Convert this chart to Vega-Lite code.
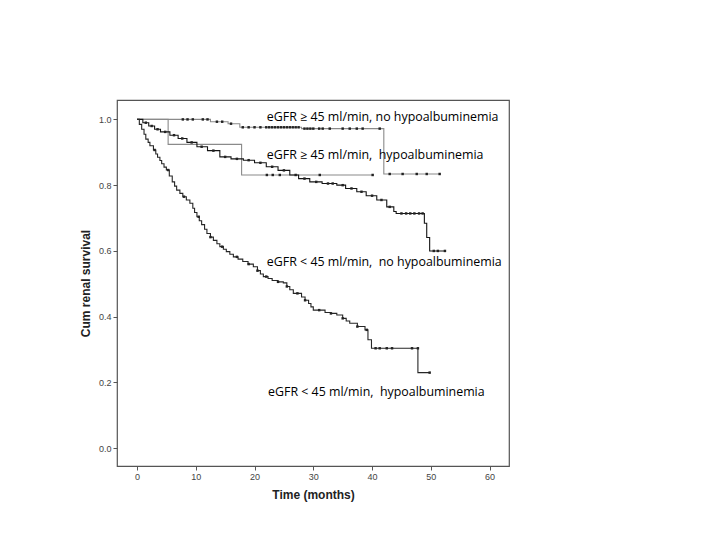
{
  "$schema": "https://vega.github.io/schema/vega-lite/v6.json",
  "width": 392,
  "height": 366,
  "autosize": {"type": "none"},
  "padding": {"left": 117, "top": 100, "right": 211, "bottom": 74},
  "background": "white",
  "config": {
    "view": {"stroke": "#555555", "strokeWidth": 1.2},
    "axis": {"grid": false, "domain": false, "tickColor": "#555555", "tickSize": 4, "labelFont": "Liberation Sans", "labelFontSize": 9, "labelColor": "#444444", "titleFont": "Liberation Sans", "titleFontSize": 12, "titleFontWeight": "bold", "titleColor": "#222222"}
  },
  "datasets": {
    "steps": [
      {"grp": "A", "t": 0, "s": 1.0}, {"grp": "A", "t": 12.5, "s": 0.993}, {"grp": "A", "t": 15.5, "s": 0.987}, {"grp": "A", "t": 17.5, "s": 0.976}, {"grp": "A", "t": 28, "s": 0.972}, {"grp": "A", "t": 42, "s": 0.834}, {"grp": "A", "t": 51.5, "s": 0.834},
      {"grp": "B", "t": 0, "s": 1.0}, {"grp": "B", "t": 5.3, "s": 0.924}, {"grp": "B", "t": 17.8, "s": 0.831}, {"grp": "B", "t": 40.1, "s": 0.831},
      {"grp": "C", "t": 0, "s": 1.0}, {"grp": "C", "t": 1, "s": 0.99}, {"grp": "C", "t": 2, "s": 0.98}, {"grp": "C", "t": 3, "s": 0.97}, {"grp": "C", "t": 4, "s": 0.962}, {"grp": "C", "t": 5.6, "s": 0.952}, {"grp": "C", "t": 7, "s": 0.942}, {"grp": "C", "t": 8.5, "s": 0.93}, {"grp": "C", "t": 10.2, "s": 0.917}, {"grp": "C", "t": 12, "s": 0.905}, {"grp": "C", "t": 14.1, "s": 0.886}, {"grp": "C", "t": 16, "s": 0.88}, {"grp": "C", "t": 18.1, "s": 0.876}, {"grp": "C", "t": 20, "s": 0.868}, {"grp": "C", "t": 22, "s": 0.856}, {"grp": "C", "t": 24, "s": 0.845}, {"grp": "C", "t": 26, "s": 0.831}, {"grp": "C", "t": 27.5, "s": 0.82}, {"grp": "C", "t": 29.4, "s": 0.81}, {"grp": "C", "t": 31.5, "s": 0.805}, {"grp": "C", "t": 34, "s": 0.8}, {"grp": "C", "t": 35.5, "s": 0.79}, {"grp": "C", "t": 37.4, "s": 0.78}, {"grp": "C", "t": 39, "s": 0.768}, {"grp": "C", "t": 40.8, "s": 0.755}, {"grp": "C", "t": 42.5, "s": 0.734}, {"grp": "C", "t": 43.7, "s": 0.72}, {"grp": "C", "t": 44.1, "s": 0.714}, {"grp": "C", "t": 48.9, "s": 0.684}, {"grp": "C", "t": 49.3, "s": 0.641}, {"grp": "C", "t": 49.8, "s": 0.6}, {"grp": "C", "t": 52.4, "s": 0.6},
      {"grp": "D", "t": 0, "s": 1.0}, {"grp": "D", "t": 0.4, "s": 0.985}, {"grp": "D", "t": 0.8, "s": 0.97}, {"grp": "D", "t": 1.2, "s": 0.955}, {"grp": "D", "t": 1.5, "s": 0.94}, {"grp": "D", "t": 1.9, "s": 0.93}, {"grp": "D", "t": 2.2, "s": 0.92}, {"grp": "D", "t": 2.8, "s": 0.907}, {"grp": "D", "t": 3.2, "s": 0.895}, {"grp": "D", "t": 3.5, "s": 0.885}, {"grp": "D", "t": 3.9, "s": 0.875}, {"grp": "D", "t": 4.2, "s": 0.865}, {"grp": "D", "t": 4.6, "s": 0.855}, {"grp": "D", "t": 5, "s": 0.846}, {"grp": "D", "t": 5.5, "s": 0.828}, {"grp": "D", "t": 6, "s": 0.81}, {"grp": "D", "t": 6.4, "s": 0.797}, {"grp": "D", "t": 6.75, "s": 0.785}, {"grp": "D", "t": 7.3, "s": 0.775}, {"grp": "D", "t": 7.8, "s": 0.765}, {"grp": "D", "t": 8.4, "s": 0.755}, {"grp": "D", "t": 9, "s": 0.745}, {"grp": "D", "t": 9.5, "s": 0.73}, {"grp": "D", "t": 9.8, "s": 0.717}, {"grp": "D", "t": 10.2, "s": 0.704}, {"grp": "D", "t": 10.6, "s": 0.692}, {"grp": "D", "t": 11, "s": 0.68}, {"grp": "D", "t": 11.5, "s": 0.666}, {"grp": "D", "t": 11.9, "s": 0.653}, {"grp": "D", "t": 12.5, "s": 0.642}, {"grp": "D", "t": 13, "s": 0.632}, {"grp": "D", "t": 13.6, "s": 0.622}, {"grp": "D", "t": 14.1, "s": 0.613}, {"grp": "D", "t": 14.7, "s": 0.605}, {"grp": "D", "t": 15.2, "s": 0.598}, {"grp": "D", "t": 15.8, "s": 0.59}, {"grp": "D", "t": 16.4, "s": 0.582}, {"grp": "D", "t": 17.2, "s": 0.575}, {"grp": "D", "t": 18, "s": 0.568}, {"grp": "D", "t": 18.9, "s": 0.56}, {"grp": "D", "t": 19.8, "s": 0.552}, {"grp": "D", "t": 20.5, "s": 0.54}, {"grp": "D", "t": 21, "s": 0.53}, {"grp": "D", "t": 21.5, "s": 0.522}, {"grp": "D", "t": 22.3, "s": 0.516}, {"grp": "D", "t": 23, "s": 0.51}, {"grp": "D", "t": 24, "s": 0.506}, {"grp": "D", "t": 24.9, "s": 0.503}, {"grp": "D", "t": 25.5, "s": 0.492}, {"grp": "D", "t": 26, "s": 0.482}, {"grp": "D", "t": 26.6, "s": 0.471}, {"grp": "D", "t": 28, "s": 0.46}, {"grp": "D", "t": 28.6, "s": 0.45}, {"grp": "D", "t": 29.2, "s": 0.44}, {"grp": "D", "t": 29.6, "s": 0.43}, {"grp": "D", "t": 30, "s": 0.42}, {"grp": "D", "t": 32, "s": 0.413}, {"grp": "D", "t": 33, "s": 0.41}, {"grp": "D", "t": 34, "s": 0.405}, {"grp": "D", "t": 35, "s": 0.395}, {"grp": "D", "t": 35.6, "s": 0.387}, {"grp": "D", "t": 36.2, "s": 0.38}, {"grp": "D", "t": 37.5, "s": 0.37}, {"grp": "D", "t": 38.8, "s": 0.36}, {"grp": "D", "t": 39.3, "s": 0.33}, {"grp": "D", "t": 39.9, "s": 0.304}, {"grp": "D", "t": 47.8, "s": 0.23}, {"grp": "D", "t": 49.8, "s": 0.23}
    ],
    "censor": [
      {"grp": "A", "t": 7.8, "s": 1.0}, {"grp": "A", "t": 8.6, "s": 1.0}, {"grp": "A", "t": 9.5, "s": 1.0}, {"grp": "A", "t": 11.2, "s": 1.0}, {"grp": "A", "t": 12, "s": 1.0}, {"grp": "A", "t": 13.6, "s": 0.993}, {"grp": "A", "t": 14.5, "s": 0.993}, {"grp": "A", "t": 16, "s": 0.987}, {"grp": "A", "t": 18, "s": 0.976}, {"grp": "A", "t": 19, "s": 0.976}, {"grp": "A", "t": 20, "s": 0.976}, {"grp": "A", "t": 21, "s": 0.976}, {"grp": "A", "t": 22, "s": 0.976}, {"grp": "A", "t": 22.5, "s": 0.976}, {"grp": "A", "t": 23, "s": 0.976}, {"grp": "A", "t": 23.5, "s": 0.976}, {"grp": "A", "t": 24, "s": 0.976}, {"grp": "A", "t": 24.5, "s": 0.976}, {"grp": "A", "t": 25, "s": 0.976}, {"grp": "A", "t": 25.5, "s": 0.976}, {"grp": "A", "t": 26, "s": 0.976}, {"grp": "A", "t": 26.5, "s": 0.976}, {"grp": "A", "t": 27, "s": 0.976}, {"grp": "A", "t": 27.5, "s": 0.976}, {"grp": "A", "t": 28.5, "s": 0.972}, {"grp": "A", "t": 29, "s": 0.972}, {"grp": "A", "t": 29.5, "s": 0.972}, {"grp": "A", "t": 30, "s": 0.972}, {"grp": "A", "t": 31, "s": 0.972}, {"grp": "A", "t": 31.6, "s": 0.972}, {"grp": "A", "t": 32.8, "s": 0.972}, {"grp": "A", "t": 35, "s": 0.972}, {"grp": "A", "t": 36.2, "s": 0.972}, {"grp": "A", "t": 37.4, "s": 0.972}, {"grp": "A", "t": 38.4, "s": 0.972}, {"grp": "A", "t": 41.3, "s": 0.972}, {"grp": "A", "t": 43, "s": 0.834}, {"grp": "A", "t": 45.2, "s": 0.834}, {"grp": "A", "t": 47.6, "s": 0.834}, {"grp": "A", "t": 49.3, "s": 0.834}, {"grp": "A", "t": 51.5, "s": 0.834},
      {"grp": "B", "t": 22.1, "s": 0.831}, {"grp": "B", "t": 23.1, "s": 0.831}, {"grp": "B", "t": 24.3, "s": 0.831}, {"grp": "B", "t": 31.1, "s": 0.831}, {"grp": "B", "t": 40.1, "s": 0.831},
      {"grp": "C", "t": 1.5, "s": 0.99}, {"grp": "C", "t": 2.5, "s": 0.98}, {"grp": "C", "t": 3.5, "s": 0.97}, {"grp": "C", "t": 4.8, "s": 0.962}, {"grp": "C", "t": 6.3, "s": 0.952}, {"grp": "C", "t": 7.7, "s": 0.942}, {"grp": "C", "t": 9.3, "s": 0.93}, {"grp": "C", "t": 11, "s": 0.917}, {"grp": "C", "t": 13, "s": 0.905}, {"grp": "C", "t": 15, "s": 0.886}, {"grp": "C", "t": 17, "s": 0.88}, {"grp": "C", "t": 19, "s": 0.876}, {"grp": "C", "t": 21, "s": 0.868}, {"grp": "C", "t": 23, "s": 0.856}, {"grp": "C", "t": 25, "s": 0.845}, {"grp": "C", "t": 27, "s": 0.831}, {"grp": "C", "t": 28.5, "s": 0.82}, {"grp": "C", "t": 30.5, "s": 0.81}, {"grp": "C", "t": 32.5, "s": 0.805}, {"grp": "C", "t": 33.3, "s": 0.805}, {"grp": "C", "t": 35, "s": 0.8}, {"grp": "C", "t": 36.5, "s": 0.79}, {"grp": "C", "t": 38.2, "s": 0.78}, {"grp": "C", "t": 40, "s": 0.768}, {"grp": "C", "t": 41.6, "s": 0.755}, {"grp": "C", "t": 43, "s": 0.734}, {"grp": "C", "t": 45, "s": 0.714}, {"grp": "C", "t": 45.8, "s": 0.714}, {"grp": "C", "t": 46.5, "s": 0.714}, {"grp": "C", "t": 47.2, "s": 0.714}, {"grp": "C", "t": 48, "s": 0.714}, {"grp": "C", "t": 48.6, "s": 0.714}, {"grp": "C", "t": 50.5, "s": 0.6}, {"grp": "C", "t": 51.2, "s": 0.6}, {"grp": "C", "t": 52.4, "s": 0.6},
      {"grp": "D", "t": 3, "s": 0.907}, {"grp": "D", "t": 5.3, "s": 0.846}, {"grp": "D", "t": 8, "s": 0.765}, {"grp": "D", "t": 10.5, "s": 0.704}, {"grp": "D", "t": 12.5, "s": 0.642}, {"grp": "D", "t": 14.5, "s": 0.613}, {"grp": "D", "t": 17, "s": 0.582}, {"grp": "D", "t": 19, "s": 0.56}, {"grp": "D", "t": 20.5, "s": 0.54}, {"grp": "D", "t": 22, "s": 0.522}, {"grp": "D", "t": 24, "s": 0.506}, {"grp": "D", "t": 25.5, "s": 0.492}, {"grp": "D", "t": 27.3, "s": 0.471}, {"grp": "D", "t": 28.6, "s": 0.45}, {"grp": "D", "t": 31, "s": 0.42}, {"grp": "D", "t": 33, "s": 0.41}, {"grp": "D", "t": 35, "s": 0.395}, {"grp": "D", "t": 37.5, "s": 0.37}, {"grp": "D", "t": 39.1, "s": 0.36}, {"grp": "D", "t": 40.6, "s": 0.304}, {"grp": "D", "t": 41.3, "s": 0.304}, {"grp": "D", "t": 42.5, "s": 0.304}, {"grp": "D", "t": 43.4, "s": 0.304}, {"grp": "D", "t": 46.8, "s": 0.304}, {"grp": "D", "t": 47.8, "s": 0.304}, {"grp": "D", "t": 49.8, "s": 0.23}
    ],
    "labels": [
      {"label": "eGFR ≥ 45 ml/min, no hypoalbuminemia", "t": 22.1, "s": 1.007},
      {"label": "eGFR ≥ 45 ml/min,\u00a0 hypoalbuminemia", "t": 22.1, "s": 0.891},
      {"label": "eGFR < 45 ml/min,\u00a0 no hypoalbuminemia", "t": 22.1, "s": 0.566},
      {"label": "eGFR < 45 ml/min,\u00a0 hypoalbuminemia", "t": 22.3, "s": 0.17}
    ]
  },
  "layer": [
    {
      "data": {"name": "steps"},
      "mark": {"type": "line", "interpolate": "step-after", "clip": true},
      "encoding": {
        "x": {"field": "t", "type": "quantitative", "scale": {"domain": [-3.4, 63.3], "nice": false, "zero": false}, "axis": {"values": [0, 10, 20, 30, 40, 50, 60], "title": "Time (months)", "titlePadding": 8}},
        "y": {"field": "s", "type": "quantitative", "scale": {"domain": [-0.054, 1.059], "nice": false, "zero": false}, "axis": {"values": [0, 0.2, 0.4, 0.6, 0.8, 1.0], "format": ".1f", "title": "Cum renal survival", "titlePadding": 6}},
        "detail": {"field": "grp"},
        "color": {"field": "grp", "type": "nominal", "scale": {"domain": ["A", "B", "C", "D"], "range": ["#8a8a8a", "#8a8a8a", "#141414", "#262626"]}, "legend": null},
        "strokeWidth": {"field": "grp", "type": "nominal", "scale": {"domain": ["A", "B", "C", "D"], "range": [1.1, 1.1, 2.8, 1.6]}, "legend": null}
      }
    },
    {
      "data": {"name": "censor"},
      "mark": {"type": "point", "shape": "square", "filled": true, "opacity": 1, "size": 6, "color": "#222222"},
      "encoding": {
        "x": {"field": "t", "type": "quantitative"},
        "y": {"field": "s", "type": "quantitative"}
      }
    },
    {
      "data": {"name": "labels"},
      "mark": {"type": "text", "align": "left", "baseline": "middle", "font": "Open Sans", "fontSize": 12.4, "color": "#000000"},
      "encoding": {
        "x": {"field": "t", "type": "quantitative"},
        "y": {"field": "s", "type": "quantitative"},
        "text": {"field": "label"}
      }
    }
  ]
}
